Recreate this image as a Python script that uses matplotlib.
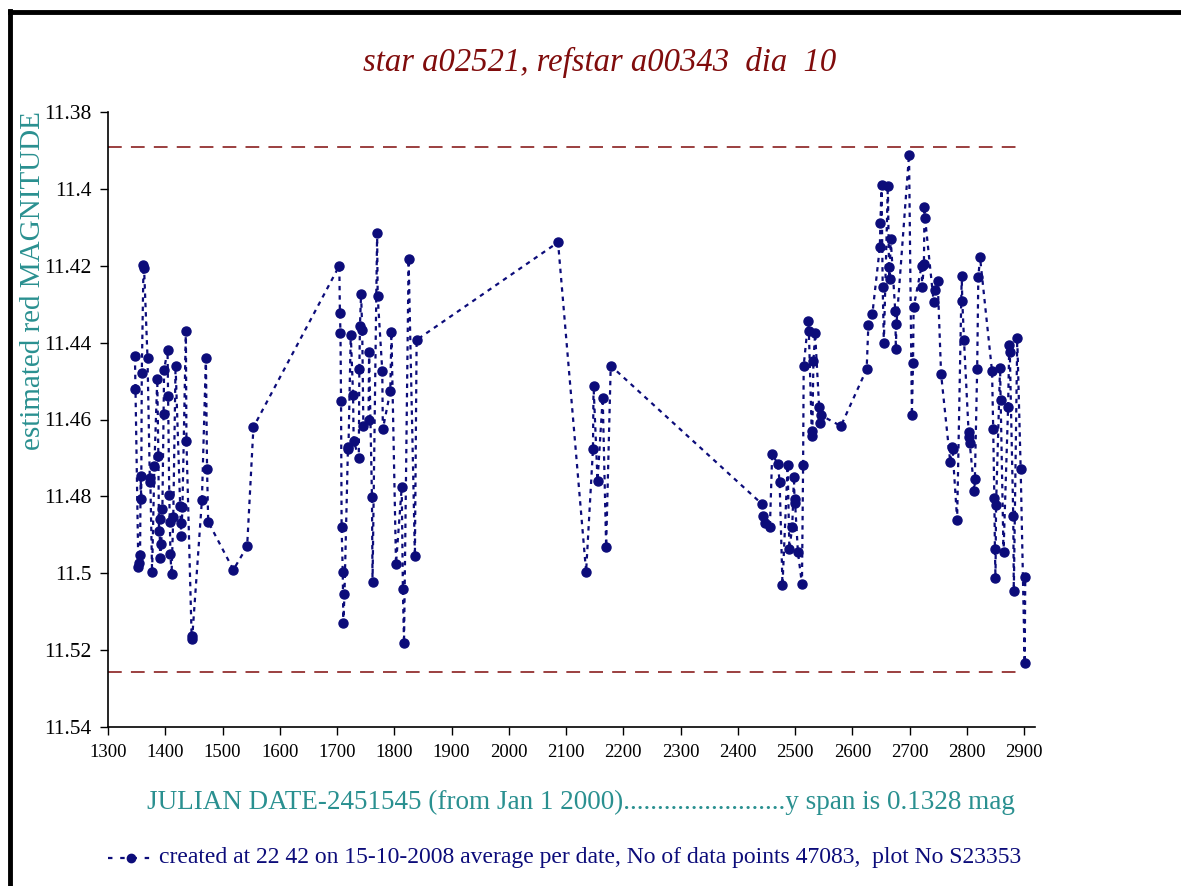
import matplotlib
matplotlib.use("Agg")
import matplotlib.pyplot as plt
from matplotlib.lines import Line2D

# julian date - 2451545 and average magnitude per date
days = [1347, 1348, 1353, 1354, 1356, 1357, 1358, 1359, 1362, 1363,
        1369, 1373, 1374, 1377, 1381, 1386, 1388, 1389, 1390, 1391,
        1393, 1395, 1397, 1398, 1404, 1405, 1407, 1408, 1409, 1411,
        1414, 1418, 1426, 1427, 1428, 1430, 1436, 1437, 1446, 1447,
        1464, 1471, 1473, 1475, 1519, 1543, 1554,
        1704, 1705, 1706, 1707, 1708, 1710, 1711, 1713, 1719, 1720,
        1724, 1728, 1729, 1738, 1739, 1740, 1742, 1744, 1746, 1755,
        1756, 1761, 1762, 1770, 1771, 1779, 1780, 1793, 1795, 1803,
        1813, 1815, 1817, 1825, 1836, 1839,
        2086, 2135, 2147, 2148, 2155, 2164, 2170, 2178,
        2443, 2444, 2448, 2456, 2460, 2470, 2473, 2478, 2487, 2490,
        2495, 2498, 2499, 2500, 2505, 2512, 2514, 2515, 2523, 2524,
        2529, 2530, 2532, 2535, 2542, 2543, 2545, 2580,
        2625, 2628, 2635, 2648, 2649, 2651, 2653, 2655, 2662, 2664,
        2665, 2667, 2675, 2676, 2677, 2699, 2704, 2706, 2707, 2721,
        2722, 2725, 2726, 2727, 2742, 2745, 2749, 2755, 2771, 2774,
        2775, 2783, 2791, 2792, 2795, 2803, 2804, 2805, 2813, 2814,
        2818, 2820, 2823, 2844, 2846, 2848, 2849, 2850, 2851, 2858,
        2859, 2864, 2872, 2874, 2875, 2881, 2882, 2888, 2894, 2901,
        2902]
mags = [11.4435, 11.452, 11.4985, 11.4974, 11.4953, 11.4747, 11.4806, 11.448, 11.4198, 11.4206,
        11.444, 11.4753, 11.4762, 11.4998, 11.472, 11.4495, 11.4695, 11.489, 11.486, 11.496,
        11.4924, 11.4832, 11.4586, 11.447, 11.442, 11.454, 11.4797, 11.4866, 11.495, 11.5003,
        11.4853, 11.446, 11.4825, 11.4868, 11.4903, 11.4828, 11.437, 11.4655, 11.5162, 11.517,
        11.481, 11.444, 11.473, 11.4866, 11.4991, 11.493, 11.462,
        11.42, 11.4322, 11.4374, 11.4551, 11.488, 11.4998, 11.513, 11.5054, 11.4678, 11.4671,
        11.4379, 11.4535, 11.4655, 11.47, 11.4468, 11.4357, 11.4273, 11.4367, 11.4617, 11.46,
        11.4424, 11.4802, 11.5024, 11.4116, 11.4279, 11.4473, 11.4625, 11.4527, 11.4373, 11.4976,
        11.4776, 11.5042, 11.5182, 11.4183, 11.4955, 11.4393,
        11.4139, 11.4996, 11.4677, 11.4512, 11.476, 11.4543, 11.4931, 11.446,
        11.4821, 11.4851, 11.487, 11.488, 11.469, 11.4716, 11.4763, 11.5031, 11.4718, 11.4938,
        11.4879, 11.4749, 11.4806, 11.4818, 11.4946, 11.5028, 11.4718, 11.446, 11.4343, 11.4369,
        11.4629, 11.4643, 11.4449, 11.4376, 11.4568, 11.461, 11.4589, 11.4617,
        11.4469, 11.4353, 11.4325, 11.4152, 11.4088, 11.3991, 11.4256, 11.44, 11.3993, 11.4202,
        11.4235, 11.4131, 11.4319, 11.4417, 11.4352, 11.3911, 11.4589, 11.4452, 11.4308, 11.42,
        11.4256, 11.4195, 11.4046, 11.4076, 11.4294, 11.4263, 11.4239, 11.4482, 11.4711, 11.4671,
        11.4678, 11.4861, 11.4227, 11.4291, 11.4393, 11.4632, 11.4646, 11.4662, 11.4785, 11.4755,
        11.4468, 11.423, 11.4178, 11.4475, 11.4625, 11.4805, 11.4938, 11.5013, 11.4822, 11.4465,
        11.4549, 11.4946, 11.4568, 11.4406, 11.4424, 11.4851, 11.5045, 11.4389, 11.473, 11.5234,
        11.5011]

upper_mag = 11.389
lower_mag = 11.5257
x_ticks = list(range(1300, 3000, 100))
y_ticks = [11.38, 11.4, 11.42, 11.44, 11.46, 11.48, 11.5, 11.52, 11.54]
y_ticklabels = ["11.38", "11.4", "11.42", "11.44", "11.46", "11.48", "11.5", "11.52", "11.54"]

plt.rcParams['font.family'] = ['Liberation Serif', 'DejaVu Serif']

navy = '#0c0c7a'
teal = '#2a9090'
darkred = '#800c0c'

fig = plt.figure(figsize=(11.81, 8.86), dpi=100)
ax = fig.add_axes([108/1181, 1 - 727/886, (1035 - 108)/1181, (727 - 112)/886])

ax.plot(days, mags, color=navy, linestyle=(0, (2, 2.2)), linewidth=1.6,
        marker='o', markersize=6.5, markerfacecolor=navy, markeredgecolor=navy)
ax.plot([1300, 2900], [upper_mag, upper_mag], color=darkred, linestyle=(0, (9, 6)), linewidth=1.1)
ax.plot([1300, 2900], [lower_mag, lower_mag], color=darkred, linestyle=(0, (9, 6)), linewidth=1.1)

ax.set_xlim(1300, 2919)
ax.set_ylim(11.54, 11.38)
ax.set_xticks(x_ticks)
ax.set_xticklabels([str(t) for t in x_ticks], fontsize=13.5)
ax.set_yticks(y_ticks)
ax.set_yticklabels(y_ticklabels, fontsize=15.5)
ax.tick_params(direction='out', length=6, width=1, colors='black', pad=6)
ax.spines['top'].set_visible(False)
ax.spines['right'].set_visible(False)
ax.spines['left'].set_linewidth(1.2)
ax.spines['bottom'].set_linewidth(1.2)

fig.text(600/1181, 1 - 62/886, "star a02521, refstar a00343  dia  10", color=darkred,
         fontsize=23.5, style='italic', ha='center', va='center')
fig.text(33/1181, 1 - 281/886, "estimated red MAGNITUDE", color=teal, fontsize=21,
         rotation=90, ha='center', va='center')
fig.text(581/1181, 1 - 802/886,
         "JULIAN DATE-2451545 (from Jan 1 2000)........................y span is 0.1328 mag",
         color=teal, fontsize=19.5, ha='center', va='center')

# legend line at the bottom
fig.add_artist(Line2D([108/1181, 155/1181], [1 - 858/886, 1 - 858/886], color=navy,
                      linestyle=(0, (2, 3.5)), linewidth=1.6, transform=fig.transFigure))
fig.add_artist(Line2D([131/1181], [1 - 858/886], color=navy, marker='o', markersize=6,
                      linestyle='none', transform=fig.transFigure))
fig.text(159/1181, 1 - 858/886,
         "created at 22 42 on 15-10-2008 average per date, No of data points 47083,  plot No S23353",
         color=navy, fontsize=17, ha='left', va='center')

# outer frame (left and top)
fig.add_artist(Line2D([10/1181, 10/1181], [0, 1 - 11/886], color='black', linewidth=3.5,
                      transform=fig.transFigure))
fig.add_artist(Line2D([10/1181, 1], [1 - 12/886, 1 - 12/886], color='black', linewidth=3.5,
                      transform=fig.transFigure))

fig.savefig("out.png", dpi=100)
